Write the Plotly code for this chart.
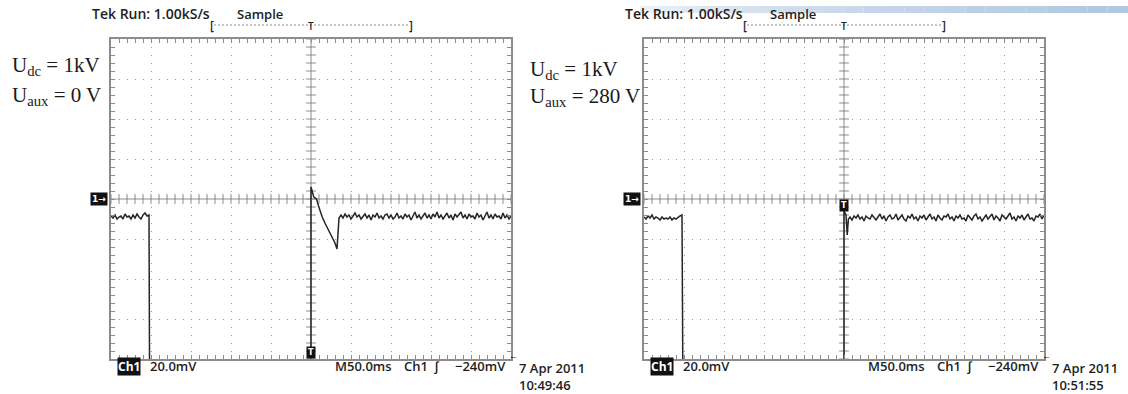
import numpy as np
import plotly.graph_objects as go

# ---------------- data (time in ms rel. to trigger, signal in mV rel. to screen centre) -------------
OFFSCALE = -120.0  # signal below the bottom of the screen

# left capture: U_dc = 1 kV, U_aux = 0 V
L_pre_t = np.arange(-250, -201, 2.5)
L_pre_v = [-8.5, -9.5, -8, -10, -9, -8.5, -10, -7.5, -9, -8.5, -10, -8, -9.5, -7.5, -9, -10, -8, -7, -8.5, -8]
L_fall_t = [-201.5, 0]
L_fall_v = [OFFSCALE, OFFSCALE]
L_spike_t = [0, 1.5, 3.5, 5, 7, 9, 11, 14, 18, 21, 24, 27, 30, 32.5, 33.5, 35]
L_spike_v = [6, 4, 1, 0.5, 0, -3, -5.5, -9, -12.5, -15, -17, -20, -22, -25, -17, -9.5]
L_post_t = np.arange(37.5, 250.1, 2.5)
L_post_v = [-8, -9.5, -7.5, -9, -8, -10, -8.5, -7, -9, -8, -10, -9, -7.5, -9.5, -8, -10.5, -8, -9, -7, -9.5,
            -8.5, -10, -8, -7.5, -9.5, -8, -10, -9, -7, -9.5, -8.5, -10, -7.5, -9, -8, -10.5, -8, -6.5, -9.5, -8,
            -10, -8.5, -7, -9.5, -8, -10, -7.5, -9, -6.5, -9.5, -8, -10, -8.5, -7, -9.5, -8, -10.5, -7.5, -9, -8,
            -6.5, -9.5, -8, -10, -7.5, -9, -8.5, -10, -7, -9, -8, -10.5, -8, -6.5, -9.5, -8, -10, -7.5, -9, -8.5,
            -10, -7, -9.5, -8, -10, -8.5]

# right capture: U_dc = 1 kV, U_aux = 280 V
R_pre_t = np.arange(-250, -201, 2.5)
R_pre_v = [-9, -10, -8.5, -9.5, -8, -10, -9, -9.5, -10.5, -9, -10, -9.5, -10, -9, -10.5, -9.5, -10, -9, -8.5, -8]
R_fall_t = [-201, 0]
R_fall_v = [OFFSCALE, OFFSCALE]
R_spike_t = [0, 2.5, 4, 5.5]
R_spike_v = [-6, -8, -18, -10]
R_post_t = np.arange(7.5, 250.1, 2.5)
R_post_v = [-9, -10.5, -8.5, -9.5, -8, -10, -9, -11, -8.5, -9.5, -10, -8, -9, -10.5, -9, -7.5, -10, -8.5, -11, -9,
            -8, -10, -9.5, -7.5, -10.5, -9, -8, -10, -11, -8.5, -9.5, -7.5, -10, -9, -11, -8.5, -9.5, -8, -10.5, -9,
            -7.5, -10, -9, -11, -8, -9.5, -10.5, -8.5, -9, -7.5, -10, -9, -11, -8.5, -9.5, -8, -10, -9.5, -11, -8,
            -9, -10.5, -8.5, -7.5, -10, -9, -11, -9.5, -8, -10, -9, -7.5, -10.5, -8.5, -9.5, -11, -8, -9, -10, -8.5,
            -7, -10, -9, -11, -8.5, -9.5, -8, -10.5, -9, -7.5, -10, -9.5, -11, -8.5, -9, -7.5, -10, -8]

labels_left = ["U<sub>dc</sub> = 1kV", "U<sub>aux</sub> = 0 V"]
labels_right = ["U<sub>dc</sub> = 1kV", "U<sub>aux</sub> = 280 V"]
times = ["10:49:46", "10:51:55"]
DATE = "7 Apr 2011"
HEADER = "Tek Run: 1.00kS/s"
MODE = "Sample"
VSCALE = "20.0mV"
TIMEBASE = "M50.0ms"
TRIG_SRC = "Ch1"
TRIG_SLOPE = "\u222B"
TRIG_LEVEL = "\u2212240mV"

X_RANGE = [-250, 250]   # 10 div x 50 ms
Y_RANGE = [-80, 80]     # 8 div x 20 mV
X_DIV, Y_DIV = 50, 20

# ---------------- figure -------------
W, H = 1128, 394
fig = go.Figure()

def px(x):
    return x / W

def py(y):
    return 1 - y / H

TRACE_COL = "#262626"
GRID_COL = "#9a9a9a"
FRAME_COL = "#8c8c8c"

scopes = [
    dict(x0=111, xa="x", ya="y",
         t=np.concatenate([L_pre_t, L_fall_t, L_spike_t, L_post_t]),
         v=np.concatenate([L_pre_v, L_fall_v, L_spike_v, L_post_v]),
         labels=labels_left, lab_x=10, lab_y=[66, 96], time=times[0], tmark_y=-76.5),
    dict(x0=644, xa="x2", ya="y2",
         t=np.concatenate([R_pre_t, R_fall_t, R_spike_t, R_post_t]),
         v=np.concatenate([R_pre_v, R_fall_v, R_spike_v, R_post_v]),
         labels=labels_right, lab_x=528, lab_y=[70, 97], time=times[1], tmark_y=-3.2),
]

ax_common = dict(
    showgrid=True, gridcolor=GRID_COL, gridwidth=1, griddash="1px,7px",
    zeroline=False, showticklabels=False,
    showline=True, linecolor=FRAME_COL, linewidth=1.5, mirror="ticks",
    ticks="inside", ticklen=4, tickcolor=FRAME_COL, tickwidth=1,
    fixedrange=True,
)

annotations = []
shapes = []
SANS = "Open Sans"
SERIF = "Liberation Serif"

def ann(text, x, y, xanchor="left", yanchor="middle", size=13, color="#1e1e1e", family=SANS, weight=600, **kw):
    annotations.append(dict(text=text, x=px(x), y=py(y), xref="paper", yref="paper",
                            xanchor=xanchor, yanchor=yanchor, showarrow=False,
                            font=dict(family=family, size=size, color=color, weight=weight), **kw))

for i, s in enumerate(scopes):
    x0 = s["x0"]
    suffix = "" if i == 0 else "2"
    fig.update_layout(**{
        "xaxis" + suffix: dict(domain=[px(x0), px(x0 + 400)], range=X_RANGE, dtick=X_DIV, tick0=0,
                               anchor="y" + suffix,
                               minor=dict(dtick=X_DIV / 5, ticks="inside", ticklen=4, tickcolor=FRAME_COL,
                                          showgrid=False),
                               **ax_common),
        "yaxis" + suffix: dict(domain=[py(359), py(39)], range=Y_RANGE, dtick=Y_DIV, tick0=0,
                               anchor="x" + suffix,
                               minor=dict(dtick=Y_DIV / 5, ticks="inside", ticklen=4, tickcolor=FRAME_COL,
                                          showgrid=False),
                               **ax_common),
    })
    # centre crosshair
    shapes.append(dict(type="line", xref=s["xa"], yref=s["ya"], x0=X_RANGE[0], x1=X_RANGE[1], y0=0, y1=0,
                       line=dict(color=FRAME_COL, width=1), layer="below"))
    shapes.append(dict(type="line", xref=s["xa"], yref=s["ya"], x0=0, x1=0, y0=Y_RANGE[0], y1=Y_RANGE[1],
                       line=dict(color=FRAME_COL, width=1), layer="below"))
    cx = np.arange(X_RANGE[0], X_RANGE[1] + 0.1, X_DIV / 5)
    cy = np.arange(Y_RANGE[0], Y_RANGE[1] + 0.1, Y_DIV / 5)
    fig.add_trace(go.Scatter(x=cx, y=np.zeros_like(cx), mode="markers", xaxis=s["xa"], yaxis=s["ya"],
                             marker=dict(symbol="line-ns", size=7, line=dict(color=FRAME_COL, width=1)),
                             hoverinfo="skip", showlegend=False))
    fig.add_trace(go.Scatter(x=np.zeros_like(cy), y=cy, mode="markers", xaxis=s["xa"], yaxis=s["ya"],
                             marker=dict(symbol="line-ew", size=7, line=dict(color=FRAME_COL, width=1)),
                             hoverinfo="skip", showlegend=False))
    # signal
    fig.add_trace(go.Scatter(x=s["t"], y=s["v"], mode="lines", xaxis=s["xa"], yaxis=s["ya"],
                             line=dict(color=TRACE_COL, width=1.5), hoverinfo="skip", showlegend=False))

    # header
    ann(HEADER, x0 - 21, 14, size=14)
    ann(MODE, x0 + 124, 14)
    # record bracket
    shapes.append(dict(type="line", xref="paper", yref="paper", x0=px(x0 + 103), x1=px(x0 + 298),
                       y0=py(25), y1=py(25), line=dict(color="#8a8a8a", width=1, dash="2px,2px")))
    ann("[", x0 + 101, 26, xanchor="center", size=12)
    ann("]", x0 + 300, 26, xanchor="center", size=12)
    ann("T", x0 + 200, 26, xanchor="center", size=10)
    # condition labels
    for lab, ly in zip(s["labels"], s["lab_y"]):
        ann(lab, s["lab_x"], ly, size=21, family=SERIF, color="#1a1a1a", weight=400)
    # channel marker "1->"
    annotations.append(dict(text="<b>1\u2192</b>", x=px(x0 - 3), y=0, xref="paper", yref=s["ya"],
                            xanchor="right", yanchor="middle", showarrow=False, bgcolor="#111111",
                            borderpad=1, font=dict(family="DejaVu Sans", size=9, color="white")))
    # trigger position marker
    annotations.append(dict(text="<b>T</b>", x=0, y=s["tmark_y"], xref=s["xa"], yref=s["ya"],
                            xanchor="center", yanchor="middle", showarrow=False, bgcolor="#111111",
                            borderpad=1, font=dict(family="DejaVu Sans", size=8, color="white")))
    # bottom readouts
    annotations.append(dict(text="<b>Ch1</b>", x=px(x0 + 6), y=py(366), xref="paper", yref="paper",
                            xanchor="left", yanchor="middle", showarrow=False, bgcolor="#111111",
                            borderpad=0, font=dict(family=SANS, size=12, color="white")))
    ann(VSCALE, x0 + 37, 366)
    ann(TIMEBASE, x0 + 222, 366)
    ann(TRIG_SRC, x0 + 291, 366)
    ann(TRIG_SLOPE, x0 + 326, 366, xanchor="center")
    ann(TRIG_LEVEL, x0 + 397, 366, xanchor="right")
    ann("\u2190", x0 + 402, 355, xanchor="center", size=9)
    ann(DATE + "<br>" + s["time"], x0 + 406, 376, size=13, align="left")

# slide decoration band at the top right
n_seg = 24
bx0, bx1 = 640, 1128
for k in range(n_seg):
    f = (k + 1) / n_seg
    r = int(255 - (255 - 178) * f ** 0.45)
    g = int(255 - (255 - 200) * f ** 0.45)
    b = int(255 - (255 - 224) * f ** 0.45)
    shapes.append(dict(type="rect", xref="paper", yref="paper",
                       x0=px(bx0 + (bx1 - bx0) * k / n_seg), x1=px(bx0 + (bx1 - bx0) * (k + 1) / n_seg),
                       y0=py(13), y1=py(6), line=dict(width=0), fillcolor=f"rgb({r},{g},{b})",
                       layer="below"))

fig.update_layout(width=W, height=H, autosize=False, margin=dict(l=0, r=0, t=0, b=0, pad=0),
                  paper_bgcolor="white", plot_bgcolor="white", showlegend=False,
                  annotations=annotations, shapes=shapes)

fig.write_html("out.html", config={"displayModeBar": False},
               post_script="document.body.style.margin='0';document.body.style.overflow='hidden';")
